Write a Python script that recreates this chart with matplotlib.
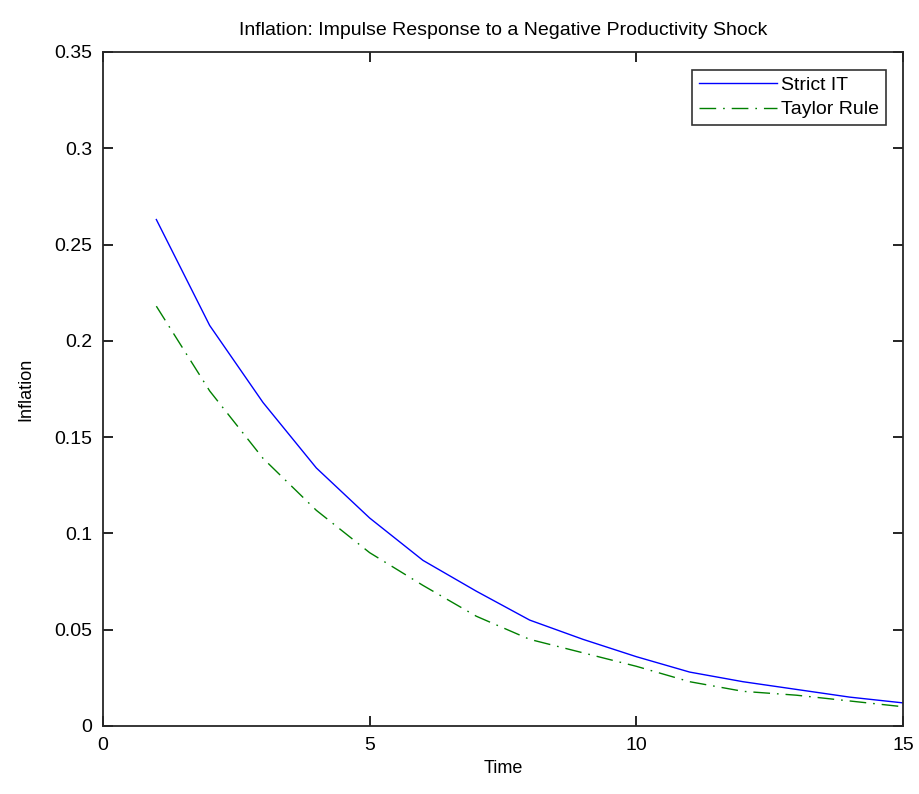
import matplotlib
matplotlib.use("Agg")
import matplotlib.pyplot as plt
from matplotlib import font_manager

# impulse responses
time_pts = list(range(1, 16))
strict_it = [0.263, 0.208, 0.168, 0.134, 0.108, 0.086, 0.070, 0.055,
             0.045, 0.036, 0.028, 0.023, 0.019, 0.015, 0.012]
taylor_rule = [0.218, 0.174, 0.139, 0.112, 0.090, 0.073, 0.057, 0.045,
               0.038, 0.031, 0.023, 0.018, 0.016, 0.013, 0.010]

names = {f.name for f in font_manager.fontManager.ttflist}
FONT = "Liberation Sans Narrow" if "Liberation Sans Narrow" in names else "Liberation Sans"
plt.rcParams["font.family"] = [FONT, "DejaVu Sans"]

fig = plt.figure(figsize=(9.19, 7.94), dpi=100)
ax = fig.add_axes([103 / 919, 1 - 726 / 794, 800 / 919, 674 / 794])

ax.plot(time_pts, strict_it, color=(0, 0, 1), linewidth=1.0, label="Strict IT")
ax.plot(time_pts, taylor_rule, color=(0, 0.5, 0), linewidth=1.0,
        dashes=(12, 5, 1.2, 5), label="Taylor Rule")

ax.set_xlim(0, 15)
ax.set_ylim(0, 0.35)
ax.set_xticks([0, 5, 10, 15])
ax.set_yticks([0, 0.05, 0.1, 0.15, 0.2, 0.25, 0.3, 0.35])
ax.set_yticklabels(["0", "0.05", "0.1", "0.15", "0.2", "0.25", "0.3", "0.35"])
ax.tick_params(direction="in", length=7, width=1.2, top=True, right=True,
               labelsize=14, colors="black", pad=8)
for s in ax.spines.values():
    s.set_linewidth(1.3)
    s.set_color("#262626")

ax.set_xlabel("Time", fontsize=13, labelpad=4)
ax.set_ylabel("Inflation", fontsize=13, labelpad=14)
ax.set_title("Inflation: Impulse Response to a Negative Productivity Shock",
             fontsize=14, pad=12)

leg = ax.legend(loc="upper right", fontsize=14, handlelength=4.0,
                fancybox=False, edgecolor="black", borderaxespad=0.9,
                handletextpad=0.2, labelspacing=0.35, borderpad=0.35)
leg.get_frame().set_linewidth(1.2)

fig.savefig("out.png", dpi=100)
